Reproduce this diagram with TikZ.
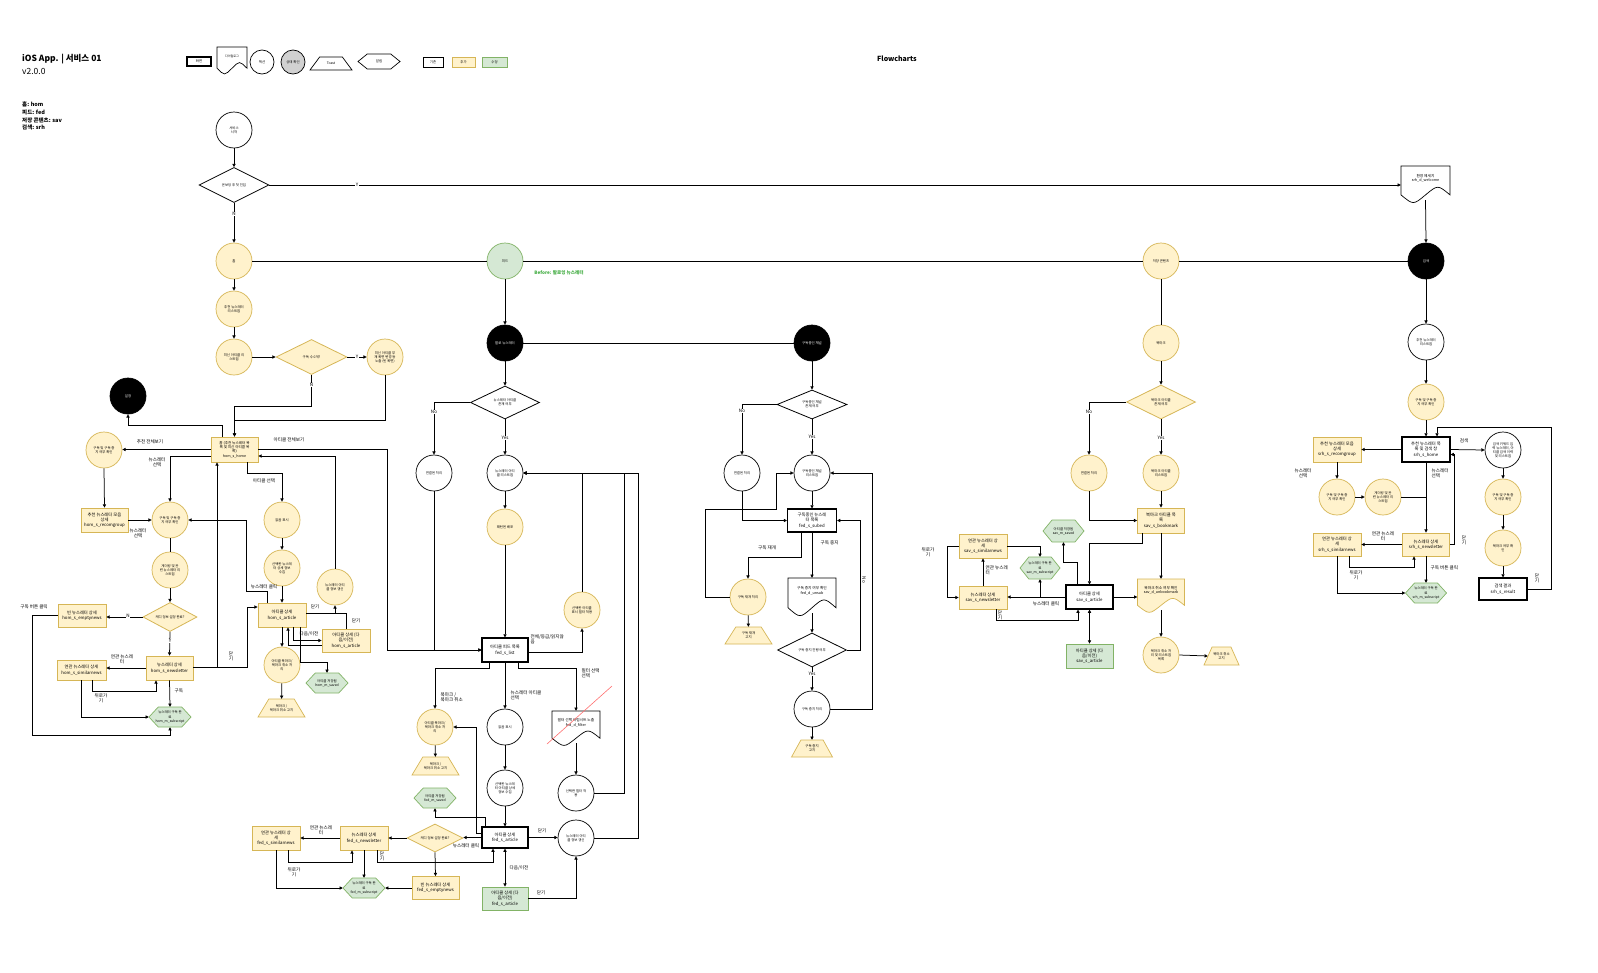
\documentclass[tikz,border=0pt]{standalone}
\usepackage{fontspec}
\setmainfont{Noto Sans CJK KR}
\usetikzlibrary{shapes.geometric,arrows.meta,calc}
\definecolor{yfill}{HTML}{FFF2CC}
\definecolor{yline}{HTML}{D6B656}
\definecolor{gfill}{HTML}{D5E8D4}
\definecolor{gline}{HTML}{82B366}
\definecolor{gtext}{HTML}{3DAA3D}
\definecolor{redx}{HTML}{FF7070}
\newcommand{\ftc}{\fontsize{3.4}{4.05}\selectfont}
\newcommand{\ftb}{\fontsize{4.3}{5.1}\selectfont}
\newcommand{\ftd}{\fontsize{3.7}{4.4}\selectfont}
\newcommand{\ftl}{\fontsize{4.6}{5.4}\selectfont}
% document shape: [style]{name}{x}{y}{w}{h}{text}
\newcommand{\docn}[7][]{%
  \draw[docst,#1] ({#3-#5/2},{#4-#6/2}) -- ({#3+#5/2},{#4-#6/2}) -- ({#3+#5/2},{#4+0.35*#6})
    .. controls ({#3+#5/4},{#4+0.05*#6}) .. ({#3},{#4+0.35*#6})
    .. controls ({#3-#5/4},{#4+0.65*#6}) .. ({#3-#5/2},{#4+0.35*#6}) -- cycle;
  \node[inner sep=0pt, minimum width=#5pt, minimum height=#6pt] (#2) at (#3,#4) {};
  \node[boxtxt] (#2t) at ({#3},{#4-0.14*#6}) {#7};
}
% hexagon: [style]{name}{x}{y}{w}{h}{text}
\newcommand{\hexn}[7][]{%
  \draw[hexst,#1] ({#3-#5/2},{#4}) -- ({#3-0.28*#5},{#4-#6/2}) -- ({#3+0.28*#5},{#4-#6/2})
    -- ({#3+#5/2},{#4}) -- ({#3+0.28*#5},{#4+#6/2}) -- ({#3-0.28*#5},{#4+#6/2}) -- cycle;
  \node[inner sep=0pt, minimum width=#5pt, minimum height=#6pt, font=\ftc, align=center] (#2) at (#3,#4) {#7};
}
% trapezoid: [style]{name}{x}{y}{w}{h}{text}
\newcommand{\trapn}[7][]{%
  \draw[trapst,#1] ({#3-#5/2},{#4+#6/2}) -- ({#3-0.27*#5},{#4-#6/2}) -- ({#3+0.27*#5},{#4-#6/2})
    -- ({#3+#5/2},{#4+#6/2}) -- cycle;
  \node[inner sep=0pt, minimum width=#5pt, minimum height=#6pt, font=\ftc, align=center] (#2) at (#3,#4) {#7};
}
\begin{document}
\begin{tikzpicture}[x=1pt,y=-1pt,
  circ/.style={circle, draw=black, line width=0.7pt, fill=white, minimum size=36pt, inner sep=0pt, font=\ftc, align=center},
  ycirc/.style={circ, draw=yline, fill=yfill},
  gcirc/.style={circ, draw=gline, fill=gfill},
  bcirc/.style={circ, fill=black, text=white},
  scr/.style={rectangle, draw=black, line width=1.1pt, fill=white, inner sep=0.5pt, font=\ftb, align=center},
  yscr/.style={scr, draw=yline, fill=yfill, line width=0.8pt},
  gscr/.style={scr, draw=gline, fill=gfill, line width=0.8pt},
  dia/.style={diamond, shape aspect=2, draw=black, line width=0.8pt, fill=white, inner sep=0pt, font=\ftc, align=center},
  ydia/.style={dia, draw=yline, fill=yfill},
  docst/.style={draw=black, fill=white, line width=0.7pt},
  hexst/.style={draw=gline, fill=gfill, line width=0.7pt},
  trapst/.style={draw=yline, fill=yfill, line width=0.7pt},
  boxtxt/.style={font=\ftd, align=center, inner sep=0pt},
  arr/.style={line width=0.75pt, -{Triangle[length=3.2pt,width=3.2pt]}},
  darr/.style={line width=0.75pt, {Triangle[length=3.2pt,width=3.2pt]}-{Triangle[length=3.2pt,width=3.2pt]}},
  ln/.style={line width=0.75pt},
  lab/.style={font=\ftl, inner sep=0.5pt, align=center},
  labw/.style={lab, fill=white}
]
\fill[white] (0,0) rectangle (1598,972);
\useasboundingbox (0,0) rectangle (1598,972);

% ---------------- header ----------------
\node[anchor=west, inner sep=0pt, font=\fontsize{8.5}{10}\selectfont\bfseries] (title) at (22,59) {iOS App. | 서비스 01};
\node[anchor=west, inner sep=0pt, font=\fontsize{8.5}{10}\selectfont] (ver) at (22,71) {v2.0.0};
\node[anchor=north west, inner sep=0pt, align=left, font=\fontsize{5.5}{7.6}\selectfont\bfseries] (abbr) at (22,102) {홈: hom\\피드: fed\\저장 콘텐츠: sav\\검색: srh};
\node[inner sep=0pt, font=\fontsize{7}{8}\selectfont\bfseries] (fc) at (897,59) {Flowcharts};

% legend
\node[scr, minimum width=24pt, minimum height=9pt, font=\ftc] (lg1) at (199,61.5) {화면};
\docn{lg2}{232}{59.5}{30}{25}{\fontsize{3}{3.6}\selectfont 다이얼로그}
\node[circ, minimum size=24pt] (lg3) at (262,62) {액션};
\node[circ, minimum size=24pt, fill=black!18] (lg4) at (293,62) {상태 확인};
\trapn[draw=black, fill=white]{lg5}{331}{63.5}{42}{13}{Toast}
\hexn[draw=black, fill=white]{lg6}{379}{61.5}{42}{15}{알림}
\node[rectangle, draw=black, line width=0.6pt, minimum width=20pt, minimum height=10pt, font=\ftc] (lg7) at (433,62) {기존};
\node[rectangle, draw=yline, fill=yfill, line width=0.6pt, minimum width=23pt, minimum height=10pt, font=\ftc] (lg8) at (463.5,62) {추가};
\node[rectangle, draw=gline, fill=gfill, line width=0.6pt, minimum width=25pt, minimum height=10pt, font=\ftc] (lg9) at (494.5,62) {수정};

% ---------------- main spine ----------------
\node[circ] (start) at (234,130) {서비스\\시작};
\node[dia, minimum width=70pt, minimum height=35pt] (onb) at (234,185) {온보딩 후 첫 진입};
\node[ycirc] (home) at (234,261) {홈};
\node[gcirc] (feed) at (505,261) {피드};
\node[ycirc] (saved) at (1161,261) {저장 콘텐츠};
\node[bcirc] (search) at (1426,261) {검색};
\docn{welcome}{1425.5}{183}{49}{34}{환영 메세지\\srh\_d\_welcome}

\draw[arr] (start) -- (onb);
\draw[arr] (onb.east) -- (onb.east -| welcome.west);
\node[labw] (lY0) at (357,185) {Y};
\draw[arr] (onb) -- (home);
\node[labw] (lN0) at (234,214) {N};
\draw[arr] (welcome.south) -- (search.north);
\draw[ln] (home) -- (feed);
\draw[ln] (feed) -- (saved);
\draw[ln] (saved) -- (search);
\node[lab, text=gtext, font=\ftl\bfseries] (lbefore) at (559,273) {Before: 팔로잉 뉴스레터};

% ---------------- home ----------------
\node[ycirc] (h1) at (234,309) {추천 뉴스레터\\리스트업};
\node[ycirc] (h2) at (234,357) {최신 아티클 리\\스트업};
\node[ydia, minimum width=71pt, minimum height=35pt] (hd) at (311.5,357) {구독 수 0개?};
\node[ycirc] (h3) at (385,357) {최신 아티클 부\\재 화면 변경 등\\노출 (빈 화면)};
\node[yscr, minimum width=47pt, minimum height=25pt, font=\fontsize{3.6}{4.3}\selectfont] (hhome) at (234.5,449.5) {홈 (추천 뉴스레터 목\\록 및 최신 아티클 목\\록)\\hom\_s\_home};
\node[bcirc] (hset) at (128,396) {설정};
\node[ycirc] (hsub1) at (104,450) {구독 및 구독 중\\지 여부 확인};
\node[yscr, minimum width=47pt, minimum height=24pt] (hrecom) at (104.5,520) {추천 뉴스레터 모음\\상세\\hom\_s\_recomgroup};
\node[ycirc] (hsub2) at (170,520) {구독 및 구독 중\\지 여부 확인};
\node[ycirc] (hgath) at (170,570) {게더링 및 관\\련 뉴스레터 리\\스트업};
\node[ydia, minimum width=54pt, minimum height=29pt] (hdia) at (170,617) {캐디 정보 설정 완료?};
\node[yscr, minimum width=48pt, minimum height=23pt] (hempty) at (82,615.5) {빈 뉴스레터 상세\\hom\_s\_emptynews};
\node[yscr, minimum width=47pt, minimum height=24pt] (hnews) at (169.5,668) {뉴스레터 상세\\hom\_s\_newsletter};
\node[yscr, minimum width=49pt, minimum height=20pt] (hsim) at (81.5,670) {연관 뉴스레터 상세\\hom\_s\_similarnews};
\hexn{hsubok}{170}{717}{42}{20}{뉴스레터 구독 완\\료\\hom\_m\_subscript}
\node[ycirc] (hread) at (282,520) {읽음 표시};
\node[ycirc] (hinfo) at (282,568) {선택한 뉴스레\\터 상세 정보\\수집};
\node[yscr, minimum width=48pt, minimum height=24pt] (hart) at (282,615) {아티클 상세\\hom\_s\_article};
\node[ycirc] (hupd) at (335,587) {뉴스레터 아티\\클 정보 갱신};
\node[yscr, minimum width=48pt, minimum height=23pt] (hnext) at (346,640.5) {아티클 상세 (다\\음/이전)\\hom\_s\_article};
\node[ycirc] (hbm) at (282,665) {아티클 북마크/\\북마크 취소 처\\리};
\trapn{hbmt}{281.5}{708}{47}{18}{북마크 /\\북마크 취소 고지}
\hexn{hsaved}{327}{683}{42}{20}{아티클 저장됨\\hom\_m\_saved}

\draw[arr] (home) -- (h1);
\draw[arr] (h1) -- (h2);
\draw[arr] (h2) -- (hd);
\draw[arr] (hd) -- (h3);
\node[labw] (lYh) at (357,357) {Y};
\draw[arr] (hd.south) -- ++(0,31) -| (hhome.north);
\node[labw] (lNh) at (311.5,385) {N};
\draw[arr] (h3.south) -- ++(0,45) -| (hhome.north);
\draw[arr] ($(hhome.north west)+(12,0)$) -- ++(0,-11) -| (hset.south);
\draw[arr] (hhome.west) -- (hhome.west -| hsub1.east);
\node[lab] (l1) at (150,442) {추천 전체보기};
\draw[arr] ($(hhome.south west)+(0,-6)$) -| (hsub2.north);
\node[lab] (l2) at (157,462) {뉴스레터\\선택};
\node[lab] (l3) at (289,440) {아티클 전체보기};
\draw[arr] (hupd.north) |- ($(hhome.east)+(0,6.5)$);
\draw[arr] ($(hhome.south)+(12.5,0)$) -- ++(0,11) -| (hread.north);
\node[lab] (l4) at (264,481) {아티클 선택};
\draw[arr] ($(hnews.east)+(0,-1)$) -| ($(hhome.south)+(-17.5,0)$);
\draw[arr] ($(hnews.east)+(0,-1)$) -- ++(54,0) |- ($(hart.west)+(0,-8)$);
\node[lab] (l5) at (231,656) {닫\\기};
\draw[arr] (hrecom.east) -- (hsub2.west);
\node[lab] (l6) at (138,533) {뉴스레터\\선택};
\draw[arr] (hsub1.south) -- (hrecom.north);
\draw[arr] ($(hart.north west)+(10,0)$) -- ++(0,-11) -- ++(-21,0) |- (hsub2.east);
\node[lab] (l7) at (264,587) {뉴스레터 클릭};
\draw[ln] (hsub2) -- (hgath);
\draw[arr] (hgath) -- (hdia);
\draw[arr] (hdia.west) -- (hdia.west -| hempty.east);
\node[labw] (lNh2) at (128,616) {N};
\draw[arr] (hdia.south) -- (hnews.north);
\node[labw] (lYh2) at (170,641) {Y};
\draw[arr] (hnews.west) -- (hnews.west -| hsim.east);
\node[lab] (l8) at (122,659) {연관 뉴스레\\터};
\draw[arr] ($(hsim.south)+(10.5,0)$) -- ++(0,11) -| ($(hnews.south)+(-13.5,0)$);
\node[lab] (l9) at (101,698) {뒤로가\\기};
\draw[arr] ($(hsim.south)+(-0.5,0)$) |- (hsubok.west);
\draw[arr] (hnews.south) -- (hsubok.north);
\node[lab, anchor=west] (l10) at (174,691) {구독};
\draw[arr] (hempty.west) -- ++(-25,0) -- ++(0,120) -| (hsubok.south);
\node[lab] (l11) at (34,607) {구독 버튼 클릭};
\draw[arr] (hread) -- (hinfo);
\draw[arr] (hinfo) -- (hart);
\draw[arr] ($(hart.east)+(0,-2)$) -| (hupd.south);
\node[lab] (l12) at (315,607) {닫기};
\draw[ln] (hnext.north) |- ($(hupd.south)+(0,8)$);
\node[lab] (l13) at (356,621) {닫기};
\draw[arr] ($(hart.south)+(11,0)$) |- (hnext.west);
\draw[arr] ($(hnext.west)+(0,5)$) -| ($(hart.south)+(6,0)$);
\node[lab] (l14) at (309,634) {다음/이전};
\draw[arr] ($(hart.south)+(18,0)$) -- ++(0,35) -| (hsaved.north);
\draw[arr] (hart) -- (hbm);
\draw[arr] (hbm) -- (hbmt);

% ---------------- feed ----------------
\node[bcirc] (fblack) at (505,343) {팔로 뉴스레터};
\node[dia, minimum width=69pt, minimum height=33pt] (fdia) at (505,402.5) {뉴스레터 아티클\\존재 여부};
\node[circ] (fno) at (434,473) {연결된 처리};
\node[circ] (flist) at (505,473) {뉴스레터 아티\\클 리스트업};
\node[ycirc] (fdist) at (505,527) {패턴된 배포};
\node[scr, minimum width=46pt, minimum height=24pt] (flistbox) at (505,650) {아티클 피드 목록\\fed\_s\_list};
\node[ycirc] (ffilt) at (582,610) {선택한 아티클\\표시 필터 적용};
\node[ycirc] (fbm) at (435,727) {아티클 북마크/\\북마크 취소 처\\리};
\trapn{fbmt}{435.5}{766}{47}{18}{북마크 /\\북마크 취소 고지}
\node[circ] (fread) at (505,727) {읽음 표시};
\node[circ] (finfo) at (505,788) {선택한 뉴스레\\터 아티클 상세\\정보 수집};
\node[scr, minimum width=46pt, minimum height=21pt] (fart) at (505,837.5) {아티클 상세\\fed\_s\_article};
\docn{fdoc}{576}{727}{48}{32}{필터 선택 바텀시트 노출\\fed\_d\_filter}
\node[circ] (fapply) at (576,793) {선택한 필터 적\\용};
\node[circ] (fupd) at (576,838) {뉴스레터 아티\\클 정보 갱신};
\hexn{fsaved}{435}{798}{42}{20}{아티클 저장됨\\fed\_m\_saved}
\node[ydia, minimum width=56pt, minimum height=28pt] (fcdia) at (435,838) {캐디 정보 설정 완료?};
\node[yscr, minimum width=48pt, minimum height=24pt] (fnews) at (364,838) {뉴스레터 상세\\fed\_s\_newsletter};
\node[yscr, minimum width=48pt, minimum height=24pt] (fsim) at (276,838) {연관 뉴스레터 상\\세\\fed\_s\_similarnews};
\hexn{fsubok}{364}{888}{42}{20}{뉴스레터 구독 완\\료\\fed\_m\_subscript}
\node[yscr, minimum width=47pt, minimum height=23pt] (fempty) at (435.5,888) {빈 뉴스레터 상세\\fed\_s\_emptynews};
\node[gscr, minimum width=46pt, minimum height=23pt] (fnext) at (505,898.5) {아티클 상세 (다\\음/이전)\\fed\_s\_article};

\draw[arr] (hhome.east) -| ($(flistbox.west)+(-94,0)$) -- (flistbox.west);
\draw[arr] (feed) -- (fblack);
\draw[arr] (fblack) -- (fdia);
\draw[arr] (fdia.west) -| (fno.north);
\node[labw] (lNf) at (434,412) {No};
\draw[arr] (fdia.south) -- (flist.north);
\node[labw] (lYf) at (505,438) {Yes};
\draw[arr] (flist) -- (fdist);
\draw[arr] (fdist) -- (flistbox);
\draw[arr] (fno.south) |- (flistbox.west);
\draw[arr] ($(flistbox.east)+(0,2)$) -| (ffilt.south);
\node[lab, anchor=north west, align=left] (l20) at (530,634) {전체/등급/읽지않\\음};
\draw[arr] (ffilt.north) |- (flist.east);
\draw[arr] ($(flistbox.south west)+(8,0)$) -- ++(0,6) -| (fbm.north);
\node[lab, anchor=west, align=left] (l21) at (440,697) {북마크 /\\북마크 취소};
\draw[arr] (fbm) -- (fbmt);
\draw[arr] (flistbox) -- (fread);
\node[lab, anchor=west, align=left] (l22) at (510,695) {뉴스레터 아티클\\선택};
\draw[arr] (fread) -- (finfo);
\draw[arr] (finfo) -- (fart);
\draw[arr] ($(flistbox.south east)+(-10,0)$) -- ++(0,6) -| (fdoc.north);
\node[lab, anchor=west, align=left] (l23) at (581,673) {필터 선택\\선택};
\draw[redx, line width=0.6pt] (547,744) -- (612,686);
\draw[arr] (fdoc.south) -- (fapply.north);
\draw[arr] (fapply.east) -- ++(30,0) |- (flist.east);
\draw[arr] (fupd.east) -- ++(44,0) |- (flist.east);
\draw[arr] (fart.east) -- (fart.east -| fupd.west);
\node[lab] (l24) at (542,831) {닫기};
\draw[darr] (fart) -- (fnext);
\node[lab, anchor=west] (l25) at (509,868) {다음/이전};
\draw[arr] (fnext.east) -| (fupd.south);
\node[lab] (l26) at (541,893) {닫기};
\draw[arr] ($(fart.west)+(0,-4)$) -- ++(-5,0) |- (fbm.east);
\draw[arr] ($(fart.north west)+(4,0)$) -- ++(0,-9) -| (fsaved.south);
\draw[arr] (fart.west) -- (fart.west -| fcdia.east);
\node[lab] (l27) at (466,846) {뉴스레터 클릭};
\draw[arr] (fcdia.west) -- (fcdia.west -| fnews.east);
\draw[arr] (fnews.west) -- (fnews.west -| fsim.east);
\node[lab] (l28) at (321,830) {연관 뉴스레\\터};
\draw[arr] ($(fsim.south)+(12,0)$) -- ++(0,12) -| ($(fnews.south)+(-12,0)$);
\node[lab] (l29) at (294,872) {뒤로가\\기};
\draw[arr] (fsim.south) |- (fsubok.west);
\draw[arr] (fnews.south) -- (fsubok.north);
\draw[arr] ($(fnews.south)+(13,0)$) -- ++(0,12) -| ($(fart.south)+(-12,0)$);
\node[lab] (l30) at (382,856) {닫\\기};
\draw[arr] (fcdia.south) -- (fempty.north);
\draw[arr] (fempty.west) -- (fempty.west -| fsubok.east);

% ---------------- subscriptions ----------------
\node[bcirc] (sblack) at (812,343) {구독중인 채널};
\node[dia, minimum width=70pt, minimum height=29pt] (sdia) at (812,404.5) {구독중인 채널\\존재 여부};
\node[circ] (sno) at (742,473) {연결된 처리};
\node[circ] (slist) at (812,473) {구독중인 채널\\리스트업};
\node[scr, minimum width=49pt, minimum height=23pt] (sbox) at (812,520.5) {구독중인 뉴스레\\터 목록\\fed\_s\_subed};
\node[ycirc] (sre) at (748,597) {구독 재개 처리};
\trapn{sret}{748.5}{635.5}{47}{17}{구독 재개\\고지}
\docn{sdoc}{812}{595.5}{48}{35}{구독 중지 여부 확인\\fed\_d\_unsub}
\node[dia, minimum width=69pt, minimum height=34pt] (sdia2) at (812,650) {구독 중지 진행 여부};
\node[circ] (sstop) at (812,709) {구독 중지 처리};
\trapn{sstopt}{812}{748.5}{41}{17}{구독 중지\\고지}

\draw[ln] (fblack) -- (sblack);
\draw[arr] (sblack) -- (sdia);
\draw[arr] (sdia.west) -| (sno.north);
\node[labw] (lNs) at (742,411) {No};
\draw[arr] (sdia.south) -- (slist.north);
\node[labw] (lYs) at (812,437) {Yes};
\draw[arr] (slist) -- (sbox);
\draw[arr] (sno.south) |- (sbox.west);
\draw[arr] ($(sbox.south)+(-11,0)$) -- ++(0,25) -| (sre.north);
\node[lab] (l40) at (767,548) {구독 재개};
\draw[arr] (sre) -- (sret);
\draw[arr] (sre.west) -- ++(-24,0) -- ++(0,-88) -- ++(71,0) |- (slist.west);
\draw[arr] (sbox) -- (sdoc);
\node[lab, anchor=west] (l41) at (820,543) {구독 중지};
\draw[arr] (sdoc.south) -- (sdia2.north);
\draw[arr] (sdia2.east) -- ++(13,0) |- (sbox.east);
\node[lab, rotate=-90] (lNs2) at (864,580) {No};
\draw[arr] (sdia2.south) -- (sstop.north);
\node[labw] (lYs2) at (812,674) {Yes};
\draw[arr] (sstop.east) -- ++(42,0) |- (slist.east);
\draw[arr] (sstop) -- (sstopt);

% ---------------- saved ----------------
\node[ycirc] (vbm) at (1161,343) {북마크};
\node[ydia, minimum width=69pt, minimum height=34pt] (vdia) at (1161,402) {북마크 아티클\\존재 여부};
\node[ycirc] (vno) at (1089,473) {연결된 처리};
\node[ycirc] (vlist) at (1161,473) {북마크 아티클\\리스트업};
\node[yscr, minimum width=47pt, minimum height=25pt] (vbox) at (1161,520.5) {북마크 아티클 목\\록\\sav\_s\_bookmark};
\node[scr, minimum width=47pt, minimum height=24pt] (vart) at (1089.5,597) {아티클 상세\\sav\_s\_article};
\docn[draw=yline, fill=yfill]{vdoc}{1161}{594.5}{47}{31}{북마크 취소 여부 확인\\sav\_d\_unbookmark}
\node[ycirc] (vdel) at (1161,655) {북마크 취소 처\\리 및 리스트업\\목록};
\trapn{vdelt}{1221.5}{656}{35}{18}{북마크 취소\\고지}
\node[gscr, minimum width=47pt, minimum height=24pt] (vnext) at (1089.5,656) {아티클 상세 (다\\음/이전)\\sav\_s\_article};
\hexn{vsaved}{1063.5}{531}{41}{22}{아티클 저장됨\\sav\_m\_saved}
\hexn{vsubok}{1040}{568}{40}{22}{뉴스레터 구독 완\\료\\sav\_m\_subscript}
\node[yscr, minimum width=48pt, minimum height=23pt] (vnews) at (983,597.5) {뉴스레터 상세\\sav\_s\_newsletter};
\node[yscr, minimum width=48pt, minimum height=24pt] (vsim) at (983,546) {연관 뉴스레터 상\\세\\sav\_s\_similarnews};

\draw[ln] (saved) -- (vbm);
\draw[arr] (vbm) -- (vdia);
\draw[arr] (vdia.west) -| (vno.north);
\node[labw] (lNv) at (1089,412) {No};
\draw[arr] (vdia.south) -- (vlist.north);
\node[labw] (lYv) at (1161,438) {Yes};
\draw[arr] (vlist) -- (vbox);
\draw[arr] (vno.south) |- (vbox.west);
\draw[arr] ($(vbox.south)+(-19,0)$) -- ++(0,10) -| (vart.north);
\draw[arr] (vbox) -- (vdoc);
\draw[arr] (vart.east) -- (vart.east -| vdoc.west);
\draw[arr] (vdoc.south) -- (vdel.north);
\draw[arr] (vdel.east) -- ($(vdelt.west)+(4,0)$);
\draw[darr] (vart) -- (vnext);
\draw[arr] ($(vart.north west)+(11.5,0)$) -- ++(0,-22) -| (vsaved.south);
\draw[arr] (vart.west) -- (vart.west -| vnews.east);
\node[lab] (l50) at (1046,604) {뉴스레터 클릭};
\draw[arr] (vart.west -| vsubok.south) -- (vsubok.south);
\draw[arr] (vnews) -- (vsim);
\node[lab, anchor=west, align=left] (l51) at (985,570) {연관 뉴스레\\터};
\draw[arr] (vsim.east) -| (vsubok.north);
\draw[arr] (vsim.west) -- ++(-11,0) |- (vnews.west);
\node[lab] (l52) at (928,552) {뒤로가\\기};
\draw[arr] ($(vnews.south)+(13,0)$) -- ++(0,11) -| ($(vart.south)+(-11.5,0)$);
\node[lab] (l53) at (1000,615) {닫\\기};

% ---------------- search ----------------
\node[circ] (srec) at (1426,342) {추천 뉴스레터\\리스트업};
\node[ycirc] (ssub) at (1426,402) {구독 및 구독 중\\지 여부 확인};
\node[scr, minimum width=48pt, minimum height=25pt] (shome) at (1426,449.5) {추천 뉴스레터 목\\록 및 검색 창\\srh\_s\_home};
\node[yscr, minimum width=48pt, minimum height=25pt] (srecom) at (1337,449.5) {추천 뉴스레터 모음\\상세\\srh\_s\_recomgroup};
\node[ycirc] (ssub2) at (1337,497) {구독 및 구독 중\\지 여부 확인};
\node[ycirc] (sgath) at (1383,497) {게더링 및 관\\련 뉴스레터 리\\스트업};
\node[yscr, minimum width=47pt, minimum height=23pt] (snews) at (1426,544.5) {뉴스레터 상세\\srh\_s\_newsletter};
\node[yscr, minimum width=48pt, minimum height=23pt] (ssim) at (1337,544.5) {연관 뉴스레터 상\\세\\srh\_s\_similarnews};
\hexn{ssubok}{1426}{593}{41}{20}{뉴스레터 구독 완\\료\\srh\_m\_subscript}
\node[circ] (skey) at (1503,450) {검색 키워드 입\\력 뉴스레터, 아\\티클 검색 이력\\및 리스트업};
\node[ycirc] (ssub3) at (1503,497) {구독 및 구독 중\\지 여부 확인};
\node[ycirc] (sbm) at (1503,548) {북마크 여부 확\\인};
\node[scr, minimum width=48pt, minimum height=22pt] (sres) at (1503,589) {검색 결과\\srh\_s\_result};

\draw[arr] (search) -- (srec);
\draw[arr] (srec) -- (ssub);
\draw[arr] (ssub) -- (shome);
\draw[arr] (shome.west) -- (srecom.east);
\draw[arr] (srecom) -- (ssub2);
\node[lab] (l60) at (1303,473) {뉴스레터\\선택};
\draw[arr] (ssub2) -- (sgath);
\draw[ln] (sgath.east) -- (sgath.east -| snews.north);
\draw[arr] (shome) -- (snews);
\node[lab, anchor=west, align=left] (l61) at (1431,473) {뉴스레터\\선택};
\draw[arr] (snews.east) -- ++(4,0) |- ($(shome.east)+(0,5)$);
\node[lab] (l62) at (1464,540) {닫\\기};
\draw[arr] (snews.west) -- (ssim.east);
\node[lab] (l63) at (1383,536) {연관 뉴스레\\터};
\draw[arr] ($(ssim.south)+(12,0)$) -- ++(0,11) -| ($(snews.south)+(-12,0)$);
\node[lab] (l64) at (1356,575) {뒤로가\\기};
\draw[arr] (ssim.south) |- (ssubok.west);
\draw[arr] (snews.south) -- (ssubok.north);
\node[lab, anchor=west] (l65) at (1430,568) {구독 버튼 클릭};
\draw[arr] (shome.east) -- (skey.west);
\node[lab] (l66) at (1464,441) {검색};
\draw[arr] (skey) -- (ssub3);
\draw[arr] (ssub3) -- (sbm);
\draw[arr] (sbm) -- (sres);
\draw[arr] (sres.east) -- ++(24,0) -- ++(0,-162) -| ($(shome.north)+(11,0)$);
\node[lab] (l67) at (1537,578) {닫\\기};
\end{tikzpicture}
\end{document}
